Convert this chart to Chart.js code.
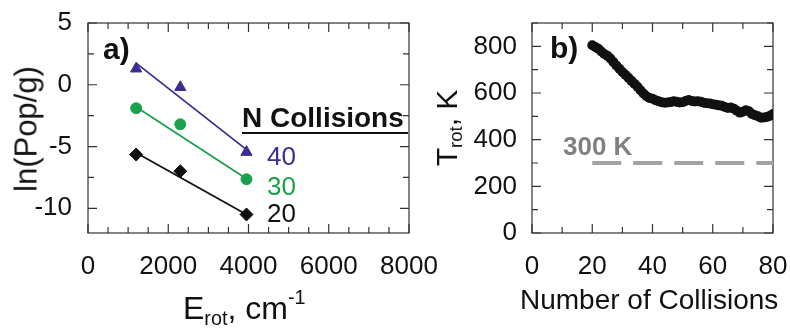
<!DOCTYPE html>
<html>
<head>
<meta charset="utf-8">
<script src="https://cdn.jsdelivr.net/npm/chart.js@4.4.1/dist/chart.umd.min.js"></script>
<style>
  body { margin: 0; background: #fff; }
  #wrap { position: relative; width: 790px; height: 329px; overflow: hidden;
          font-family: "Liberation Sans", Arial, sans-serif; color: #111; }
  canvas { position: absolute; top: -12px; }
  .lbl { position: absolute; white-space: nowrap; line-height: 1; }
  .rot { transform: translate(-50%, -50%) rotate(-90deg); }
  sub { font-size: 0.62em; vertical-align: -0.3em; }
  sup { font-size: 0.62em; vertical-align: 0.75em; }
</style>
</head>
<body>
<div id="wrap">
  <canvas id="chartA" width="460" height="341" style="left:0"></canvas>
  <canvas id="chartB" width="390" height="341" style="left:440px"></canvas>

  <div class="lbl rot" style="left:26px; top:129px; font-size:31px">ln(Pop/g)</div>
  <div class="lbl" style="left:183px; top:288px; font-size:32px">E<sub>rot</sub>, cm<sup>-1</sup></div>
  <div class="lbl" style="left:103px; top:34px; font-size:30px; font-weight:bold">a)</div>

  <div class="lbl" style="left:242px; top:104px; font-size:28px; font-weight:bold">N Collisions</div>
  <div style="position:absolute; left:242px; top:132px; width:166px; height:2px; background:#111"></div>
  <div class="lbl" style="left:267px; top:143px; font-size:26px; color:#3c2d91">40</div>
  <div class="lbl" style="left:267px; top:173px; font-size:26px; color:#1ba14b">30</div>
  <div class="lbl" style="left:267px; top:200px; font-size:26px; color:#111">20</div>

  <div class="lbl rot" style="left:449px; top:128px; font-size:30px">T<sub>rot</sub>, K</div>
  <div class="lbl" style="left:520px; top:286px; font-size:28px">Number of Collisions</div>
  <div class="lbl" style="left:550px; top:33px; font-size:30px; font-weight:bold">b)</div>
  <div class="lbl" style="left:563px; top:133px; font-size:26px; font-weight:bold; color:#808080">300 K</div>
</div>

<script>
// panel a) : ln(Pop/g) vs rotational energy
const eRot = [1200, 2300, 3950];
const pop40 = [1.3, -0.2, -5.45];
const pop30 = [-1.9, -3.2, -7.65];
const pop20 = [-5.65, -7.0, -10.5];
const fitE = [1200, 3950];
const fit40 = [1.75, -5.25];
const fit30 = [-1.8, -7.6];
const fit20 = [-5.5, -10.5];
const xTicksA = [0, 2000, 4000, 6000, 8000];
const yTicksA = [-10, -5, 0, 5];

// panel b) : rotational temperature vs number of collisions
const collisions = [20, 21, 22, 23, 24, 25, 26, 27, 28, 29, 30, 31, 32, 33, 34, 35, 36, 37, 38, 39, 40,
  41, 42, 43, 44, 45, 46, 47, 48, 49, 50, 51, 52, 53, 54, 55, 56, 57, 58, 59, 60,
  61, 62, 63, 64, 65, 66, 67, 68, 69, 70, 71, 72, 73, 74, 75, 76, 77, 78, 79, 80];
const tRot = [805, 797, 790, 778, 767, 760, 748, 733, 718, 704, 690, 678, 665, 652, 640, 627, 612, 598, 586, 579, 575,
  569, 565, 560, 558, 559, 561, 565, 562, 559, 560, 566, 570, 566, 564, 565, 563, 558, 556, 555, 552,
  550, 547, 545, 540, 536, 538, 533, 524, 516, 520, 526, 522, 510, 505, 500, 494, 495, 497, 502, 510];
const roomX = [20, 80];
const roomT = [300, 300];
const xTicksB = [0, 20, 40, 60, 80];
const yTicksB = [0, 200, 400, 600, 800];

const purple = "#3c2d91";
const green = "#1ba14b";
const black = "#111111";

const pts = (xs, ys) => xs.map((x, i) => ({ x: x, y: ys[i] }));
const tickFont = { family: "'Liberation Sans', Arial, sans-serif", size: 26 };

// box around the plot with inward ticks on all four sides
const framePlugin = {
  id: "frame",
  beforeDatasetsDraw(chart, args, o) {
    const { ctx, chartArea: a, scales } = chart;
    const x = scales.x, y = scales.y;
    ctx.save();
    ctx.strokeStyle = "#333";
    ctx.lineWidth = 1.2;
    ctx.strokeRect(a.left, a.top, a.right - a.left, a.bottom - a.top);
    ctx.beginPath();
    for (let v = Math.ceil(x.min / o.xStep) * o.xStep; v <= x.max + 1e-9; v += o.xStep) {
      const px = x.getPixelForValue(v);
      const len = Math.abs(v % o.xMajor) < 1e-9 ? 9 : 6;
      ctx.moveTo(px, a.bottom); ctx.lineTo(px, a.bottom - len);
      ctx.moveTo(px, a.top); ctx.lineTo(px, a.top + len);
    }
    for (let v = Math.ceil(y.min / o.yStep) * o.yStep; v <= y.max + 1e-9; v += o.yStep) {
      const py = y.getPixelForValue(v);
      const len = Math.abs(v % o.yMajor) < 1e-9 ? 9 : 6;
      ctx.moveTo(a.left, py); ctx.lineTo(a.left + len, py);
      ctx.moveTo(a.right, py); ctx.lineTo(a.right - len, py);
    }
    ctx.stroke();
    ctx.restore();
  }
};

function axis(min, max, ticks, pad, fit) {
  return {
    type: "linear", min: min, max: max,
    afterBuildTicks: s => { s.ticks = ticks.map(v => ({ value: v })); },
    afterFit: fit,
    grid: { display: false, drawTicks: false },
    border: { display: false },
    ticks: { font: tickFont, color: black, padding: pad, maxRotation: 0, autoSkip: false,
             callback: v => String(v) }
  };
}

const common = {
  animation: false,
  responsive: false,
  events: [],
  plugins: { legend: { display: false }, tooltip: { enabled: false } }
};

// canvases sit 12px above the page top, so a top padding of 35 puts the plot box at y = 23
new Chart(document.getElementById("chartA"), {
  type: "scatter",
  data: {
    datasets: [
      { data: pts(fitE, fit40), showLine: true, borderColor: purple, borderWidth: 1.8, pointRadius: 0 },
      { data: pts(fitE, fit30), showLine: true, borderColor: green, borderWidth: 1.8, pointRadius: 0 },
      { data: pts(fitE, fit20), showLine: true, borderColor: black, borderWidth: 1.8, pointRadius: 0 },
      { data: pts(eRot, pop40), pointStyle: "triangle", pointRadius: 6.5, backgroundColor: purple, borderColor: purple },
      { data: pts(eRot, pop30), pointStyle: "circle", pointRadius: 5.5, backgroundColor: green, borderColor: green },
      { data: pts(eRot, pop20), pointStyle: "rectRot", pointRadius: 6.5, backgroundColor: black, borderColor: black }
    ]
  },
  options: {
    ...common,
    layout: { padding: { top: 35, right: 51, left: 0, bottom: 0 } },
    scales: {
      x: axis(0, 8000, xTicksA, 18, s => { s.height = 96; }),
      y: axis(-12, 5, yTicksA, 16, s => { s.width = 88; })
    },
    plugins: { ...common.plugins, frame: { xStep: 500, xMajor: 2000, yStep: 2.5, yMajor: 5 } }
  },
  plugins: [framePlugin]
});

new Chart(document.getElementById("chartB"), {
  type: "scatter",
  data: {
    datasets: [
      { data: pts(roomX, roomT), showLine: true, borderColor: "#a3a3a3", borderWidth: 4,
        borderDash: [29, 12], pointRadius: 0 },
      { data: pts(collisions, tRot), pointRadius: 5, backgroundColor: black, borderColor: black, borderWidth: 0 }
    ]
  },
  options: {
    ...common,
    layout: { padding: { top: 35, right: 57, left: 0, bottom: 0 } },
    scales: {
      x: axis(0, 80, xTicksB, 18, s => { s.height = 96; }),
      y: axis(0, 900, yTicksB, 15, s => { s.width = 92; })
    },
    plugins: { ...common.plugins, frame: { xStep: 10, xMajor: 20, yStep: 100, yMajor: 200 } }
  },
  plugins: [framePlugin]
});
</script>
</body>
</html>
